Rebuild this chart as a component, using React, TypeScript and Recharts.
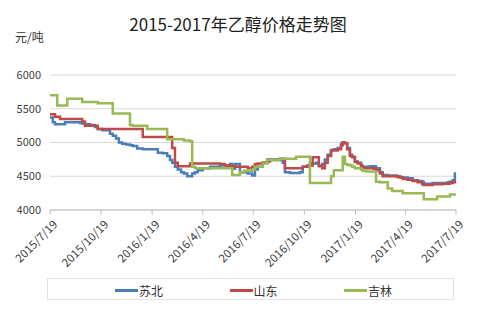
import React from "react";
import { LineChart, Line, XAxis, YAxis, CartesianGrid } from "recharts";

// days since 2015/7/19
const days = [0,5,9,13,18,27,31,45,54,58,63,72,81,86,94,101,108,113,119,124,130,137,144,149,157,167,175,189,194,203,211,216,220,225,230,236,241,247,252,256,261,266,275,288,306,315,324,328,333,342,349,356,364,369,374,383,391,396,405,414,419,423,432,443,450,455,463,468,473,479,484,490,495,500,506,511,518,524,527,531,535,540,544,549,554,560,563,569,576,583,587,594,599,608,616,625,630,635,644,653,662,670,673,684,689,697,707,716,720,725,729,731];
const subei = [5370,5300,5270,5270,5270,5300,5300,5300,5290,5280,5270,5260,5230,5200,5180,5180,5130,5100,5060,5000,4980,4970,4960,4950,4910,4900,4900,4900,4850,4840,4800,4740,4700,4640,4600,4560,4540,4500,4500,4540,4560,4590,4620,4640,4660,4660,4680,4610,4680,4560,4560,4540,4510,4600,4640,4700,4750,4750,4750,4740,4700,4560,4550,4550,4560,4640,4650,4690,4690,4700,4660,4680,4750,4820,4890,4900,4920,4980,5000,4990,4920,4820,4790,4720,4700,4660,4640,4640,4650,4650,4620,4560,4520,4510,4510,4500,4490,4480,4470,4440,4430,4420,4390,4390,4400,4400,4400,4410,4420,4440,4540,4540];
const shandong = [5420,5420,5380,5380,5350,5350,5350,5350,5350,5310,5250,5250,5250,5200,5200,5200,5200,5200,5200,5200,5200,5200,5200,5200,5200,5080,5080,5080,5080,5080,5080,5080,4920,4700,4650,4650,4650,4650,4690,4690,4690,4690,4690,4690,4680,4660,4650,4650,4640,4640,4640,4620,4640,4680,4690,4700,4720,4740,4740,4760,4760,4620,4620,4620,4620,4640,4660,4660,4780,4780,4650,4620,4700,4800,4880,4880,4900,4960,5000,4990,4900,4800,4780,4710,4690,4650,4620,4620,4620,4610,4590,4540,4500,4500,4500,4490,4480,4460,4450,4430,4410,4380,4370,4370,4380,4380,4390,4390,4400,4410,4430,4430];
const jilin = [5700,5700,5700,5550,5550,5550,5650,5650,5650,5600,5600,5600,5600,5580,5580,5580,5580,5430,5430,5430,5430,5430,5260,5250,5250,5250,5200,5200,5200,5200,5050,5050,5050,5050,5050,5050,5030,5030,5020,4640,4620,4620,4620,4620,4620,4620,4620,4520,4520,4560,4580,4580,4600,4640,4640,4690,4740,4740,4740,4760,4760,4760,4760,4790,4790,4790,4790,4400,4400,4400,4400,4400,4400,4400,4500,4590,4590,4590,4790,4680,4670,4660,4640,4620,4620,4600,4580,4570,4570,4570,4420,4410,4410,4320,4280,4280,4280,4250,4250,4250,4250,4250,4160,4160,4160,4200,4200,4200,4230,4230,4230,4230];

const tickDays = [0, 92, 184, 275, 366, 458, 550, 640, 731];
const tickLabels = ["2015/7/19","2015/10/19","2016/1/19","2016/4/19","2016/7/19","2016/10/19","2017/1/19","2017/4/19","2017/7/19"];
const yTicks = [4000, 4500, 5000, 5500, 6000];

const seriesNames = ["苏北", "山东", "吉林"];
const colors = ["#4A7EBB", "#BE4B48", "#98B954"];
const title = "2015-2017年乙醇价格走势图";
const unit = "元/吨";

const data = days.map((d, i) => ({ day: d, subei: subei[i], shandong: shandong[i], jilin: jilin[i] }));

const FONT = "'Noto Sans CJK SC', 'Noto Sans', sans-serif";

const XTick = (props: any) => {
  const { x, y, payload } = props;
  const idx = tickDays.indexOf(payload.value);
  const tx = x + 6;
  const ty = y + 4;
  return (
    <text
      x={tx}
      y={ty}
      transform={`rotate(-45 ${tx} ${ty})`}
      textAnchor="end"
      dominantBaseline="middle"
      fontSize={11.5}
      fontFamily={FONT}
      fill="#404040"
    >
      {idx >= 0 ? tickLabels[idx] : ""}
    </text>
  );
};

export default function App() {
  return (
    <div style={{ position: "absolute", left: 0, top: 0, width: 500, height: 315, background: "#fff", fontFamily: FONT }}>
      <div style={{ position: "absolute", left: 0, width: 476, top: 12, textAlign: "center", fontSize: 17, color: "#222", lineHeight: "24px" }}>
        {title}
      </div>
      <div style={{ position: "absolute", left: 15, top: 29, fontSize: 12, color: "#333", lineHeight: "16px" }}>{unit}</div>
      <LineChart width={500} height={315} data={data} margin={{ top: 75, right: 44, left: 0, bottom: 0 }}>
        <CartesianGrid vertical={false} stroke="#D9D9D9" strokeWidth={1} />
        <XAxis
          dataKey="day"
          type="number"
          domain={[0, 731]}
          ticks={tickDays}
          interval={0}
          height={105}
          tick={<XTick />}
          tickSize={5}
          tickMargin={4}
          stroke="#BFBFBF"
          axisLine={{ stroke: "#BFBFBF" }}
          tickLine={{ stroke: "#BFBFBF" }}
        />
        <YAxis
          domain={[4000, 6000]}
          ticks={yTicks}
          width={50}
          axisLine={false}
          tickLine={false}
          tickSize={6}
          tickMargin={3}
          tick={{ fontSize: 11, fill: "#404040", fontFamily: FONT }}
        />
        <Line type="stepAfter" dataKey="subei" name={seriesNames[0]} stroke={colors[0]} strokeWidth={2.5} dot={false} isAnimationActive={false} />
        <Line type="stepAfter" dataKey="shandong" name={seriesNames[1]} stroke={colors[1]} strokeWidth={2.5} dot={false} isAnimationActive={false} />
        <Line type="stepAfter" dataKey="jilin" name={seriesNames[2]} stroke={colors[2]} strokeWidth={2.5} dot={false} isAnimationActive={false} />
      </LineChart>
      <div style={{ position: "absolute", left: 47, top: 278, width: 407, height: 22, border: "1px solid #E3E3E3", boxSizing: "border-box" }}>
        {seriesNames.map((n, i) => (
          <div key={n} style={{ position: "absolute", left: 67 + i * 114.5, top: 2, height: 18, display: "flex", alignItems: "center" }}>
            <div style={{ width: 23, height: 3, background: colors[i] }} />
            <span style={{ fontSize: 12, color: "#333", marginLeft: 1 }}>{n}</span>
          </div>
        ))}
      </div>
    </div>
  );
}
